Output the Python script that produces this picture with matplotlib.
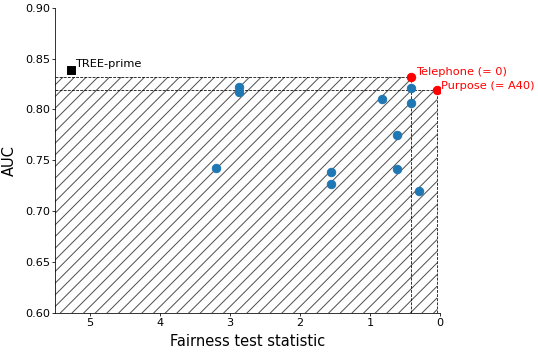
import numpy as np
import matplotlib
matplotlib.use("Agg")
import matplotlib.pyplot as plt

# fairness test statistic / AUC of the candidate models
stat_vals = [2.87, 2.87, 3.20, 0.41, 0.83, 0.41, 0.62, 0.62, 1.56, 1.56, 0.30]
auc_vals = [0.822, 0.817, 0.742, 0.821, 0.810, 0.806, 0.775, 0.741, 0.738, 0.727, 0.720]

# reference model
tree_stat = 5.27
tree_auc = 0.839

# highlighted models
red_names = ["Telephone (= 0)", "Purpose (= A40)"]
red_stat = [0.41, 0.05]
red_auc = [0.832, 0.819]

xlim = (5.5, 0.0)
ylim = (0.60, 0.90)

DPI = 70
fig = plt.figure(figsize=(538 / DPI, 353 / DPI), dpi=DPI)
ax = fig.add_axes([0.102, 0.114, 0.716, 0.864])

# hatched region dominated by the red points (union of the two rectangles)
hx = [xlim[0], red_stat[0], red_stat[0], red_stat[1]]
hy = [red_auc[0], red_auc[0], red_auc[1], red_auc[1]]
ax.fill_between(hx, ylim[0], hy, facecolor='none', edgecolor='0.3', hatch='//',
                linewidth=0, zorder=1)
for s, a in zip(red_stat, red_auc):
    ax.hlines(a, xlim[0], s, colors='k', linestyles='--', linewidth=0.8, zorder=2)
    ax.vlines(s, ylim[0], a, colors='k', linestyles='--', linewidth=0.8, zorder=2)

ax.scatter(stat_vals, auc_vals, s=75, color='tab:blue', zorder=3)
ax.scatter([tree_stat], [tree_auc], s=75, marker='s', color='black', zorder=3)
ax.annotate("TREE-prime", (tree_stat, tree_auc), xytext=(4, 0.5), textcoords='offset points',
            fontsize=11.7, va='bottom')

ax.scatter(red_stat, red_auc, s=75, color='red', zorder=4)
for name, s, a in zip(red_names, red_stat, red_auc):
    ax.annotate(name, (s, a), xytext=(4.5, -0.5), textcoords='offset points',
                fontsize=11.7, color='red', va='bottom')

ax.set_xlim(*xlim)
ax.set_ylim(*ylim)
ax.set_xticks([5, 4, 3, 2, 1, 0])
ax.set_yticks([0.60, 0.65, 0.70, 0.75, 0.80, 0.85, 0.90])
ax.tick_params(labelsize=11.6, pad=1.5)
ax.spines['top'].set_visible(False)
ax.spines['right'].set_visible(False)
ax.set_xlabel("Fairness test statistic", fontsize=15, labelpad=7)
ax.set_ylabel("AUC", fontsize=15, labelpad=8)

fig.savefig("out.png", dpi=DPI)
